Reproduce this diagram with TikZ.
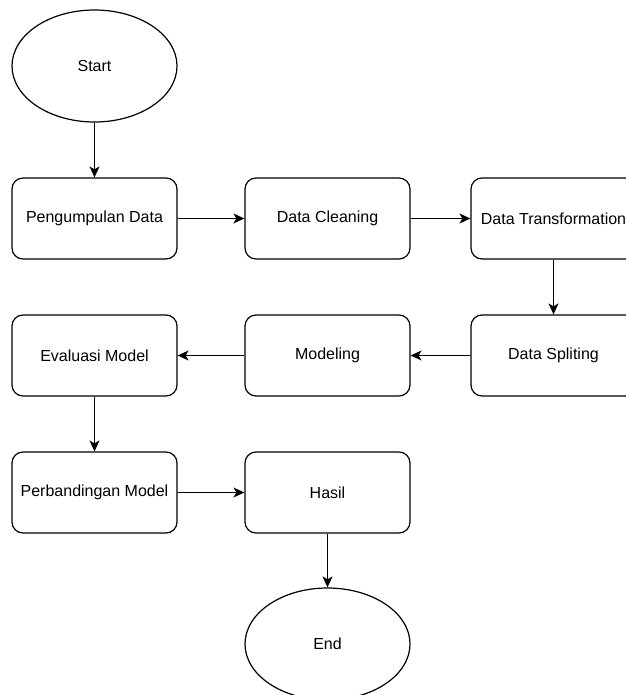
\documentclass[tikz,border=0pt]{standalone}
\usepackage{fontspec}
\setmainfont{Liberation Sans}
\usetikzlibrary{shapes.geometric,arrows.meta}

\begin{document}
\begin{tikzpicture}[
x=1pt,y=-1pt,
proc/.style={
	rectangle,minimum width=165pt,minimum height=81pt,rounded corners=11pt,
	draw=black,line width=1.2pt,inner sep=0pt,
	font=\fontsize{16}{19}\selectfont},
term/.style={
	ellipse,minimum width=165pt,minimum height=112pt,inner sep=0pt,
	draw=black,line width=1.2pt,
	font=\fontsize{16}{19}\selectfont},
flow/.style={-{Stealth[length=11pt,width=10pt,inset=3pt]},line width=1.2pt}
]
\useasboundingbox (0,0) rectangle (625,695);

\node[term] (start) at (94.5,66) {Start};

\node[proc] (kumpul) at (94.5,218.5) {Pengumpulan Data};
\node[proc] (cleaning) at (327.5,218.5) {Data Cleaning};
\node[proc] (transform) at (553.5,218.5) {Data Transformation};

\node[proc] (evaluasi) at (94.5,355.5) {Evaluasi Model};
\node[proc] (modeling) at (327.5,355.5) {Modeling};
\node[proc] (spliting) at (553.5,355.5) {Data Spliting};

\node[proc] (banding) at (94.5,492.5) {Perbandingan Model};
\node[proc] (hasil) at (327.5,492.5) {Hasil};

\node[term] (end) at (327.5,644) {End};

\draw[flow] (start) -- (kumpul);
\draw[flow] (kumpul) -- (cleaning);
\draw[flow] (cleaning) -- (transform);
\draw[flow] (transform) -- (spliting);
\draw[flow] (spliting) -- (modeling);
\draw[flow] (modeling) -- (evaluasi);
\draw[flow] (evaluasi) -- (banding);
\draw[flow] (banding) -- (hasil);
\draw[flow] (hasil) -- (end);

\end{tikzpicture}
\end{document}
